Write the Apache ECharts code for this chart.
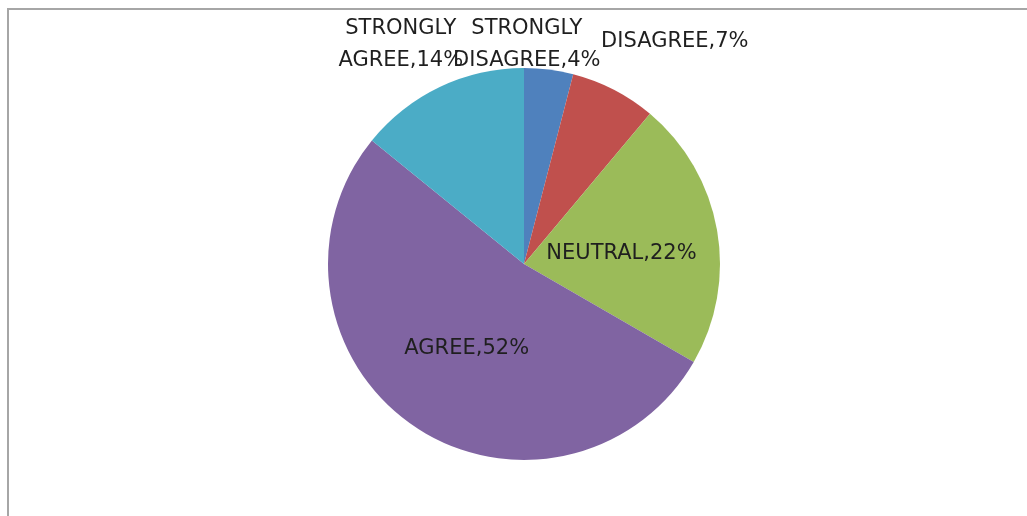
<!DOCTYPE html>
<html>
<head>
<meta charset="utf-8">
<script src="https://cdn.jsdelivr.net/npm/echarts@6/dist/echarts.min.js"></script>
<style>
  html, body { margin: 0; padding: 0; background: #ffffff; }
  #chart { width: 1027px; height: 516px; }
</style>
</head>
<body>
<div id="chart"></div>
<script>
// Survey response shares (percent)
const categories = ['STRONGLY\nDISAGREE', 'DISAGREE', 'NEUTRAL', 'AGREE', 'STRONGLY\nAGREE'];
const shares = [4, 7, 22, 52, 14];
const sliceColors = ['#4F81BD', '#C0504D', '#9BBB59', '#8064A2', '#4BACC6'];
// Which labels sit outside the pie, and small nudges for them
const outsideLabel = [true, true, false, false, true];
const labelNudge = [[-27, -25], [56, -48], [-2, 7], [0, 1], [-34, -42]];

const chart = echarts.init(document.getElementById('chart'), null, { renderer: 'canvas' });

const data = categories.map((name, i) => ({
  name: name,
  value: shares[i],
  itemStyle: { color: sliceColors[i] },
  label: { position: outsideLabel[i] ? 'outside' : 'inside' }
}));

chart.setOption({
  backgroundColor: '#ffffff',
  animation: false,
  graphic: [{
    type: 'polyline',
    shape: { points: [[8, 530], [8, 9], [1040, 9]] },
    style: { stroke: '#a6a6a6', lineWidth: 2, fill: null },
    silent: true
  }],
  series: [{
    type: 'pie',
    center: [524, 264],
    radius: 196,
    startAngle: 90,
    clockwise: true,
    avoidLabelOverlap: false,
    itemStyle: { borderWidth: 0 },
    emphasis: { disabled: true },
    label: {
      show: true,
      formatter: p => p.name + ',' + p.value + '%',
      fontFamily: 'DejaVu Sans',
      fontSize: 21,
      lineHeight: 32,
      color: '#1f1f1f',
      align: 'center'
    },
    labelLine: { show: false, length: 0, length2: 0 },
    labelLayout: p => ({
      align: 'center',
      dx: labelNudge[p.dataIndex][0],
      dy: labelNudge[p.dataIndex][1]
    }),
    data: data
  }]
});
</script>
</body>
</html>
